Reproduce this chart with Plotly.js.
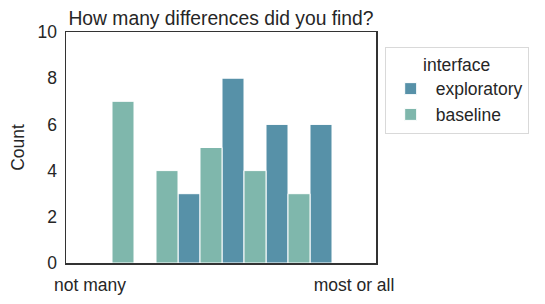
<!DOCTYPE html>
<html><head><meta charset="utf-8">
<script src="https://cdn.plot.ly/plotly-3.0.1.min.js"></script>
<style>body{margin:0;background:#fff}#c{width:545px;height:304px}</style>
</head><body><div id="c"></div>
<script>
const binCenters = [1.5, 2.5, 3.5, 4.5, 5.5, 6.5];
const exploratory = [0, 0, 3, 8, 6, 6];
const baseline = [7, 4, 5, 4, 3, 0];
const tickVals = [1, 7];
const tickLabels = ["not many", "most or all"];
const font = {family: "Liberation Sans, Arial, sans-serif", size: 17.5, color: "#262626"};
const traces = [
  {type: "bar", name: "exploratory", x: binCenters, y: exploratory,
   marker: {color: "#5791a8", line: {color: "#ffffff", width: 1}}},
  {type: "bar", name: "baseline", x: binCenters, y: baseline,
   marker: {color: "#7fb7ac", line: {color: "#ffffff", width: 1}}}
];
const layout = {
  width: 545, height: 304,
  margin: {l: 66, r: 169, t: 32, b: 41},
  paper_bgcolor: "#fff", plot_bgcolor: "#fff",
  font: font,
  barmode: "group", bargap: 0, bargroupgap: 0,
  title: {text: "How many differences did you find?", font: {size: 19.3, color: "#262626"},
          x: (66 + 376) / 2 / 545, xanchor: "center", y: 1 - 18 / 304, yanchor: "middle"},
  xaxis: {range: [1 - 24/44, 7 + 22/44], tickvals: tickVals, ticktext: tickLabels,
          showgrid: false, zeroline: false, showline: true, mirror: true,
          linecolor: "#333333", linewidth: 1.5, ticks: "", tickfont: {size: 17.5},
          ticklabelstandoff: 5},
  yaxis: {range: [0, 10], dtick: 2, showgrid: false, zeroline: false, showline: true, mirror: true,
          linecolor: "#333333", linewidth: 1.5, ticks: "", tickfont: {size: 17.5},
          ticklabelstandoff: 4,
          title: {text: "Count", font: {size: 17.5}, standoff: 8}},
  legend: {x: 1.028, y: 0.935, xanchor: "left", yanchor: "top",
           bordercolor: "#d9d9d9", borderwidth: 1, bgcolor: "#fff",
           title: {text: "interface", side: "top center", font: {size: 17.5}},
           font: {size: 17.5}, tracegroupgap: 2, itemwidth: 40}
};
Plotly.newPlot("c", traces, layout, {displayModeBar: false, staticPlot: true});
</script></body></html>
